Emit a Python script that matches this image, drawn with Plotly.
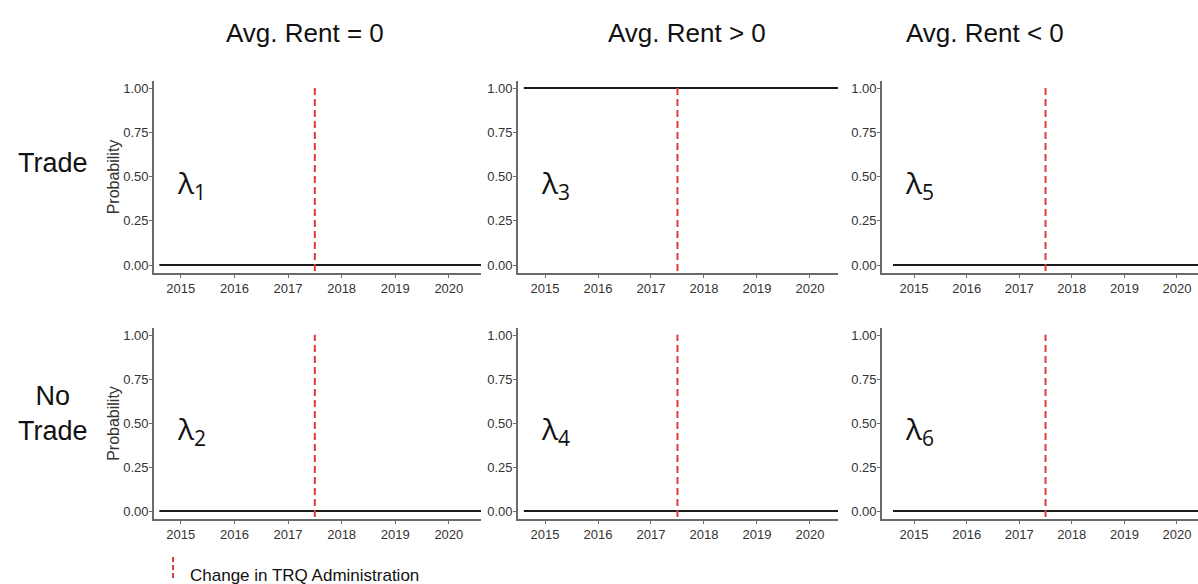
import plotly.graph_objects as go

# ---- data -------------------------------------------------------------
periods = [2014.6, 2015.0, 2016.0, 2017.0, 2018.0, 2019.0, 2020.0, 2020.7]
prob_lambda1 = [0, 0, 0, 0, 0, 0, 0, 0]   # Trade, Avg. Rent = 0
prob_lambda2 = [0, 0, 0, 0, 0, 0, 0, 0]   # No Trade, Avg. Rent = 0
prob_lambda3 = [1, 1, 1, 1, 1, 1, 1, 1]   # Trade, Avg. Rent > 0
prob_lambda4 = [0, 0, 0, 0, 0, 0, 0, 0]   # No Trade, Avg. Rent > 0
prob_lambda5 = [0, 0, 0, 0, 0, 0, 0, 0]   # Trade, Avg. Rent < 0
prob_lambda6 = [0, 0, 0, 0, 0, 0, 0, 0]   # No Trade, Avg. Rent < 0

change_year = 2017.5
col_titles = ["Avg. Rent = 0", "Avg. Rent > 0", "Avg. Rent < 0"]
row_titles = ["Trade", "No<br>Trade"]
year_ticks = [2015, 2016, 2017, 2018, 2019, 2020]
prob_ticks = [0, 0.25, 0.5, 0.75, 1.0]
legend_text = "Change in TRQ Administration"

# ---- layout geometry --------------------------------------------------
W, H = 1198, 584
col_px = [(154, 481), (518, 838), (882, 1198)]
col_ranges = [[2014.5, 2020.6], [2014.49, 2020.53], [2014.39, 2020.4]]
row_px = [(81, 273), (328, 519)]
y_range = [-0.045, 1.04]

panels = [
    (0, 0, prob_lambda1, 1), (1, 0, prob_lambda2, 2),
    (0, 1, prob_lambda3, 3), (1, 1, prob_lambda4, 4),
    (0, 2, prob_lambda5, 5), (1, 2, prob_lambda6, 6),
]

AXIS_GREY = "#6b6b6b"
TICK_FONT = dict(family="Liberation Sans, Arial, sans-serif", size=13, color="#333333")
RED = "#e03a3e"

fig = go.Figure()
layout = {}
shapes = []
annotations = []

for i, (r, c, probs, lam) in enumerate(panels):
    n = i + 1
    xa = "xaxis" if n == 1 else f"xaxis{n}"
    ya = "yaxis" if n == 1 else f"yaxis{n}"
    xr = "x" if n == 1 else f"x{n}"
    yr = "y" if n == 1 else f"y{n}"
    x0, x1 = col_px[c]
    top, bot = row_px[r]
    layout[xa] = dict(
        domain=[x0 / W, x1 / W], range=col_ranges[c], anchor=yr,
        tickvals=year_ticks, ticktext=[str(v) for v in year_ticks],
        showgrid=False, zeroline=False, showline=True, linecolor=AXIS_GREY,
        linewidth=1.6, ticks="outside", ticklen=3, tickcolor=AXIS_GREY,
        tickwidth=1, tickfont=TICK_FONT, fixedrange=True,
    )
    layout[ya] = dict(
        domain=[1 - bot / H, 1 - top / H], range=y_range, anchor=xr,
        tickvals=prob_ticks, tickformat=".2f",
        showgrid=False, zeroline=False, showline=True, linecolor=AXIS_GREY,
        linewidth=1.6, ticks="outside", ticklen=3, tickcolor=AXIS_GREY,
        tickwidth=1, tickfont=TICK_FONT, fixedrange=True,
        ticklabelstandoff=-2,
    )
    if c == 0:
        layout[ya]["title"] = dict(
            text="Probability", standoff=0,
            font=dict(family="Liberation Sans, Arial, sans-serif", size=16, color="#333333"),
        )

    fig.add_trace(go.Scatter(
        x=periods, y=probs, mode="lines", xaxis=xr, yaxis=yr,
        line=dict(color="#1a1a1a", width=2), showlegend=False, hoverinfo="skip",
    ))

    # vertical marker for the administration change
    shapes.append(dict(
        type="line", xref=xr, yref=f"{yr} domain",
        x0=change_year, x1=change_year, y0=0.01, y1=0.965,
        line=dict(color=RED, width=2, dash="7px,4px"),
    ))

    annotations.append(dict(
        text=f"λ<sub>{lam}</sub>", xref=f"{xr} domain", yref=yr,
        x=0.065, y=0.46, xanchor="left", yanchor="middle", showarrow=False,
        font=dict(family="Open Sans, Noto Sans, sans-serif", size=30, color="#111111"),
    ))

# column headers
for title, cx in zip(col_titles, [305, 687, 985]):
    annotations.append(dict(
        text=title, xref="paper", yref="paper", x=cx / W, y=1 - 33 / H,
        xanchor="center", yanchor="middle", showarrow=False,
        font=dict(family="Liberation Sans, Arial, sans-serif", size=26, color="#111111"),
    ))

# row headers
for title, cy in zip(row_titles, [163, 413]):
    annotations.append(dict(
        text=title, xref="paper", yref="paper", x=53 / W, y=1 - cy / H,
        xanchor="center", yanchor="middle", showarrow=False, align="center",
        font=dict(family="Liberation Sans, Arial, sans-serif", size=27, color="#111111"),
    ))

# legend key
shapes.append(dict(
    type="line", xref="paper", yref="paper",
    x0=173 / W, x1=173 / W, y0=1 - 557 / H, y1=1 - 581 / H,
    line=dict(color=RED, width=2, dash="5px,3px"),
))
annotations.append(dict(
    text=legend_text, xref="paper", yref="paper", x=188 / W, y=1 - 575 / H,
    xanchor="left", yanchor="middle", showarrow=False,
    font=dict(family="Liberation Sans, Arial, sans-serif", size=17, color="#111111"),
))

fig.update_layout(
    width=W, height=H, margin=dict(l=0, r=0, t=0, b=0),
    paper_bgcolor="white", plot_bgcolor="white",
    shapes=shapes, annotations=annotations, showlegend=False,
    **layout,
)

fig.write_html("out.html", config={"displayModeBar": False})
